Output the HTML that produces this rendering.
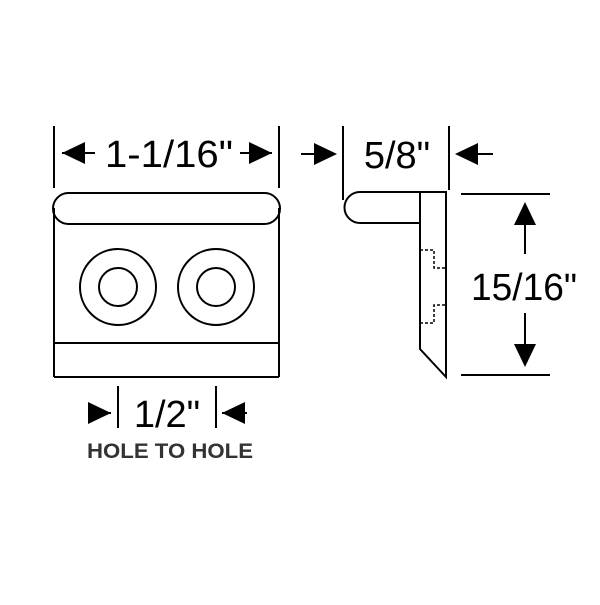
<!DOCTYPE html>
<html><head><style>body{margin:0;background:#fff}</style></head><body>
<svg width="600" height="600" viewBox="0 0 600 600" xmlns="http://www.w3.org/2000/svg" font-family="Liberation Sans, sans-serif">
<rect width="600" height="600" fill="#fff"/>
<g stroke="#000" stroke-width="2" fill="none">
<line x1="54" y1="126" x2="54" y2="188"/>
<line x1="279" y1="126" x2="279" y2="188"/>
<line x1="62" y1="153" x2="95" y2="153"/>
<line x1="240" y1="153" x2="272" y2="153"/>
<rect x="53" y="193" width="227" height="31" rx="15.5"/>
<line x1="54" y1="208" x2="54" y2="377"/>
<line x1="279" y1="208" x2="279" y2="377"/>
<line x1="54" y1="343" x2="279" y2="343"/>
<line x1="54" y1="377" x2="279" y2="377"/>
<circle cx="118" cy="287" r="38"/>
<circle cx="118" cy="287" r="19"/>
<circle cx="216" cy="287" r="38"/>
<circle cx="216" cy="287" r="19"/>
<line x1="118" y1="386" x2="118" y2="428"/>
<line x1="216" y1="386" x2="216" y2="428"/>
<line x1="343" y1="126" x2="343" y2="200"/>
<line x1="449" y1="126" x2="449" y2="190"/>
<line x1="301" y1="154" x2="315" y2="154"/>
<line x1="478" y1="154" x2="493" y2="154"/>
<path d="M447 192 L360 192 A15.5 15.5 0 0 0 360 223 L420 223"/>
<path d="M420 192 L420 349 L446 377 L446 192"/>
<line x1="461" y1="194" x2="550" y2="194"/>
<line x1="461" y1="375" x2="550" y2="375"/>
<line x1="525" y1="225" x2="525" y2="254"/>
<line x1="525" y1="313" x2="525" y2="345"/>
</g>
<g stroke="#000" stroke-width="1.5" fill="none" stroke-dasharray="3,2">
<path d="M420 250 L434 250 L434 268 L446 268"/>
<path d="M420 323 L434 323 L434 305 L446 305"/>
</g>
<g fill="#000">
<polygon points="62,153 85,142 85,164"/>
<polygon points="272,153 249,142 249,164"/>
<polygon points="111,413 88,402 88,424"/>
<polygon points="222,413 245,402 245,424"/>
<polygon points="337,154 314,143 314,165"/>
<polygon points="455,154 478,143 478,165"/>
<polygon points="525,202 514,225 536,225"/>
<polygon points="525,367 514,344 536,344"/>
</g>
<line x1="88" y1="413" x2="111" y2="413" stroke="#000" stroke-width="2"/>
<line x1="222" y1="413" x2="247" y2="413" stroke="#000" stroke-width="2"/>
<g font-size="38" text-anchor="middle" fill="#000">
<text x="169" y="167" textLength="128" lengthAdjust="spacingAndGlyphs">1-1/16"</text>
<text x="167" y="427">1/2"</text>
<text x="397" y="168">5/8"</text>
<text x="524" y="300" textLength="106" lengthAdjust="spacingAndGlyphs">15/16"</text>
</g>
<text x="170" y="458" font-size="21" font-weight="bold" text-anchor="middle" fill="#333" textLength="166" lengthAdjust="spacingAndGlyphs">HOLE TO HOLE</text>
</svg>
</body></html>
